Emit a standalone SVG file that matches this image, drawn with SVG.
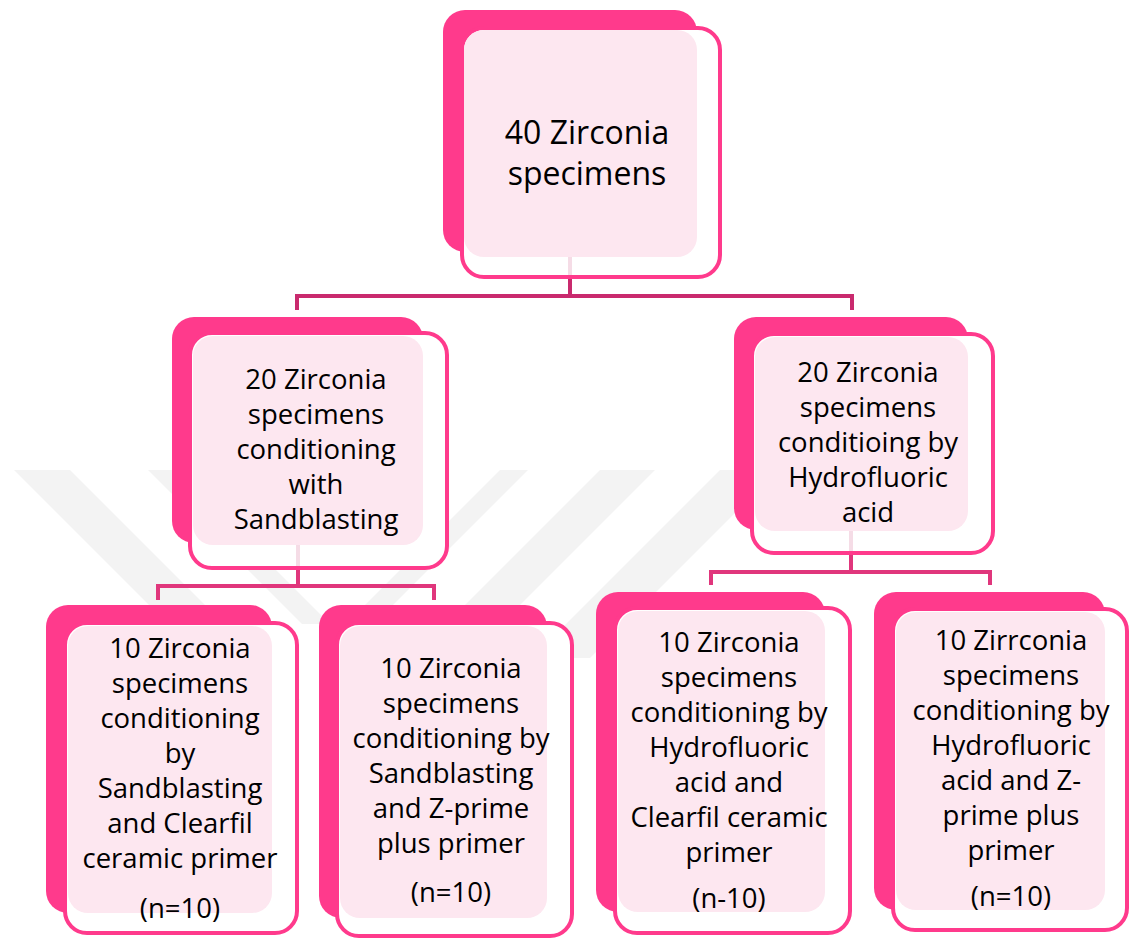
<svg xmlns="http://www.w3.org/2000/svg" width="1129" height="938" viewBox="0 0 1129 938">
<style>
.back{fill:#FF3A8C}
.front{fill:#FFFFFF;stroke:#FF3A8C;stroke-width:4}
.inner{fill:#FDE7F0}
.t{font-family:"Open Sans","Liberation Sans",sans-serif;font-size:27.5px;fill:#000;text-anchor:middle}
.tb{font-size:32px}
.c1{fill:none;stroke:#C92A6E;stroke-width:4}
.c2{fill:none;stroke:#E0367C;stroke-width:4}
.pale{stroke:#F5DCE6;stroke-width:4}
.wm{fill:#F3F3F3}
</style>
<rect width="1129" height="938" fill="#FFFFFF"/>
<g id="watermark">
<polygon class="wm" points="14,470 70,470 300,700 244,700"/>
<polygon class="wm" points="148,470 176,470 330,624 302,624"/>
<polygon class="wm" points="600,470 655,470 425,700 370,700"/>
<polygon class="wm" points="500,470 528,470 374,624 346,624"/>
<polygon class="wm" points="720,470 778,470 590,658 532,658"/>
</g>
<g id="n0">
<rect class="back" x="443" y="10" width="254" height="242" rx="22"/>
<rect class="front" x="462" y="28" width="258" height="249" rx="22"/>
<rect class="inner" x="464" y="30" width="233" height="227" rx="20"/>
<text class="t tb" x="587" y="144">40 Zirconia</text>
<text class="t tb" x="587" y="185">specimens</text>
</g>
<g id="n1">
<rect class="back" x="172" y="317" width="251" height="226" rx="22"/>
<rect class="front" x="190" y="333" width="257" height="235" rx="22"/>
<rect class="inner" x="193" y="336" width="230" height="209" rx="20"/>
<text class="t" x="316" y="389">20 Zirconia</text>
<text class="t" x="316" y="424">specimens</text>
<text class="t" x="316" y="459">conditioning</text>
<text class="t" x="316" y="494">with</text>
<text class="t" x="316" y="529">Sandblasting</text>
</g>
<g id="n2">
<rect class="back" x="734" y="317" width="234" height="213" rx="22"/>
<rect class="front" x="752" y="334" width="241" height="219" rx="22"/>
<rect class="inner" x="755" y="337" width="213" height="194" rx="20"/>
<text class="t" x="868" y="382">20 Zirconia</text>
<text class="t" x="868" y="417">specimens</text>
<text class="t" x="868" y="452">conditioing by</text>
<text class="t" x="868" y="487">Hydrofluoric</text>
<text class="t" x="868" y="522">acid</text>
</g>
<g id="n3">
<rect class="back" x="46" y="605" width="226" height="308" rx="22"/>
<rect class="front" x="65" y="623" width="232" height="310" rx="22"/>
<rect class="inner" x="68" y="626" width="204" height="287" rx="20"/>
<text class="t" x="180" y="658">10 Zirconia</text>
<text class="t" x="180" y="693">specimens</text>
<text class="t" x="180" y="728">conditioning</text>
<text class="t" x="180" y="763">by</text>
<text class="t" x="180" y="798">Sandblasting</text>
<text class="t" x="180" y="833">and Clearfil</text>
<text class="t" x="180" y="868">ceramic primer</text>
<text class="t" x="180" y="918">(n=10)</text>
</g>
<g id="n4">
<rect class="back" x="319" y="605" width="228" height="313" rx="22"/>
<rect class="front" x="337" y="623" width="235" height="313" rx="22"/>
<rect class="inner" x="340" y="626" width="207" height="292" rx="20"/>
<text class="t" x="451" y="678">10 Zirconia</text>
<text class="t" x="451" y="713">specimens</text>
<text class="t" x="451" y="748">conditioning by</text>
<text class="t" x="451" y="783">Sandblasting</text>
<text class="t" x="451" y="818">and Z-prime</text>
<text class="t" x="451" y="853">plus primer</text>
<text class="t" x="451" y="902">(n=10)</text>
</g>
<g id="n5">
<rect class="back" x="596" y="592" width="229" height="320" rx="22"/>
<rect class="front" x="615" y="608" width="235" height="325" rx="22"/>
<rect class="inner" x="618" y="611" width="207" height="301" rx="20"/>
<text class="t" x="729" y="652">10 Zirconia</text>
<text class="t" x="729" y="687">specimens</text>
<text class="t" x="729" y="722">conditioning by</text>
<text class="t" x="729" y="757">Hydrofluoric</text>
<text class="t" x="729" y="792">acid and</text>
<text class="t" x="729" y="827">Clearfil ceramic</text>
<text class="t" x="729" y="862">primer</text>
<text class="t" x="729" y="908">(n-10)</text>
</g>
<g id="n6">
<rect class="back" x="874" y="592" width="231" height="318" rx="22"/>
<rect class="front" x="893" y="609" width="234" height="321" rx="22"/>
<rect class="inner" x="896" y="612" width="209" height="298" rx="20"/>
<text class="t" x="1011" y="650">10 Zirrconia</text>
<text class="t" x="1011" y="685">specimens</text>
<text class="t" x="1011" y="720">conditioning by</text>
<text class="t" x="1011" y="755">Hydrofluoric</text>
<text class="t" x="1011" y="790">acid and Z-</text>
<text class="t" x="1011" y="825">prime plus</text>
<text class="t" x="1011" y="860">primer</text>
<text class="t" x="1011" y="906">(n=10)</text>
</g>
<g id="connectors">
<line class="pale" x1="570" y1="257" x2="570" y2="275"/>
<path class="c1" d="M570,279 V296 M297,310 V296 H852 V310"/>
<line class="pale" x1="298" y1="545" x2="298" y2="566"/>
<path class="c2" d="M298,570 V586 M158,600 V586 H434 V600"/>
<line class="pale" x1="851" y1="531" x2="851" y2="551"/>
<path class="c2" d="M851,555 V572 M711,585 V572 H990 V585"/>
</g>
</svg>
